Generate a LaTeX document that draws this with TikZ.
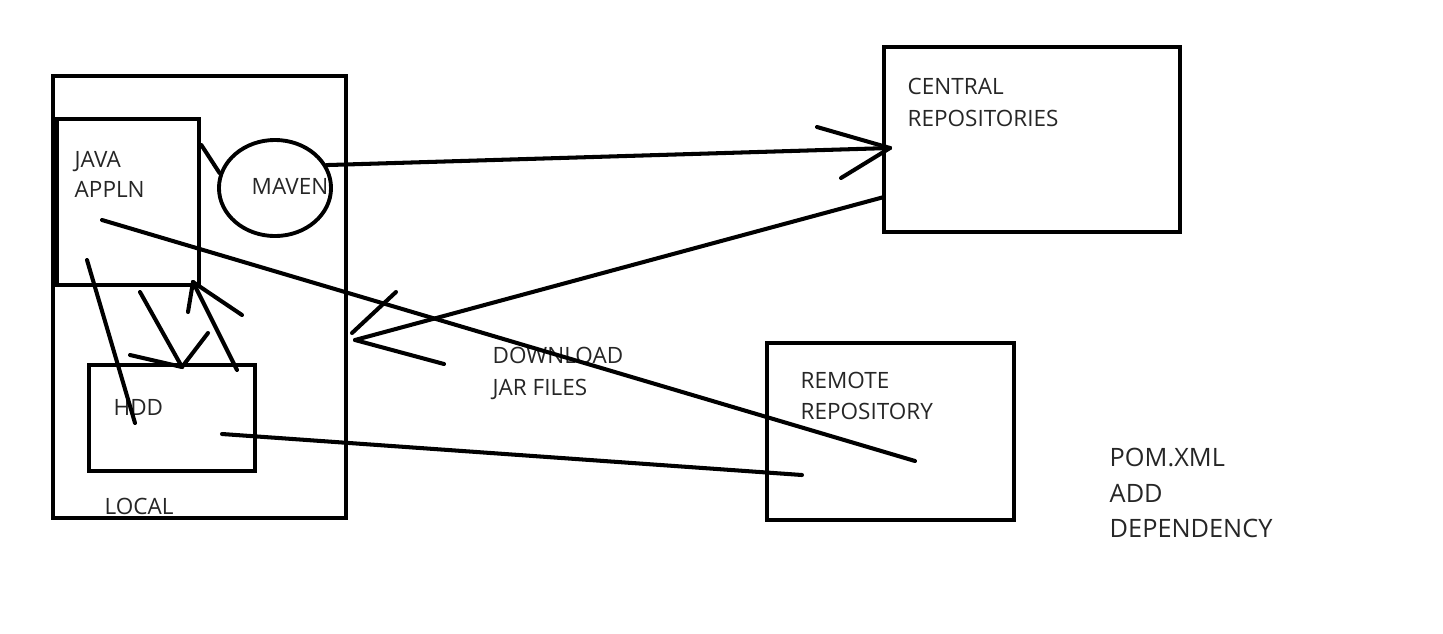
\documentclass[tikz,border=0pt]{standalone}
\usepackage{fontspec}
\setmainfont{Open Sans}
\usetikzlibrary{shapes.geometric}
\begin{document}
\begin{tikzpicture}[x=0.01cm,y=-0.01cm,
    box/.style={draw,line width=1.3pt,inner sep=0pt},
    lbl/.style={anchor=base west,inner sep=0pt,text=black!85,font=\fontsize{6.4pt}{9pt}\selectfont},
    biglbl/.style={lbl,font=\fontsize{7.2pt}{10pt}\selectfont},
    stroke/.style={line width=1.15pt,line cap=round}]
    \useasboundingbox (0,0) rectangle (1443,633);
    \node[box,minimum width=2.93cm,minimum height=4.42cm] (local) at (199.5,297) {};
    \node[box,minimum width=1.42cm,minimum height=1.66cm] (java) at (128,202) {};
    \node[box,minimum width=1.66cm,minimum height=1.06cm] (hdd) at (172,418) {};
    \node[draw,ellipse,line width=1.1pt,inner sep=0pt,minimum width=1.12cm,minimum height=0.96cm] (maven) at (275,188) {};
    \node[box,minimum width=2.96cm,minimum height=1.85cm] (central) at (1032,139.5) {};
    \node[box,minimum width=2.47cm,minimum height=1.77cm] (remote) at (890.5,431.5) {};
    \node[lbl] (java1) at (74,167) {JAVA};
    \node[lbl] (java2) at (74,197) {APPLN};
    \node[lbl] (maventxt) at (251,194) {MAVEN};
    \node[lbl] (hddtxt) at (113,415) {HDD};
    \node[lbl] (localtxt) at (104,514) {LOCAL};
    \node[lbl] (central1) at (907,94) {CENTRAL};
    \node[lbl] (central2) at (907,126) {REPOSITORIES};
    \node[lbl] (dl1) at (492,363) {DOWNLOAD};
    \node[lbl] (dl2) at (492,395) {JAR FILES};
    \node[lbl] (remote1) at (800,388) {REMOTE};
    \node[lbl] (remote2) at (800,419) {REPOSITORY};
    \node[biglbl] (pom1) at (1109,466) {POM.XML};
    \node[biglbl] (pom2) at (1109,502) {ADD};
    \node[biglbl] (pom3) at (1109,537) {DEPENDENCY};
    % maven to central
    \coordinate (tipc) at (890,148);
    \draw[stroke] (java.east |- 0,145) -- (maven.165);
    \draw[stroke] (maven.24) -- (tipc);
    \draw[stroke] (817,127) -- (tipc);
    \draw[stroke] (841,178) -- (tipc);
    % central back to local
    \coordinate (fromc) at (884,197);
    \coordinate (tipl) at (355,340);
    \draw[stroke] (fromc) -- (tipl);
    \draw[stroke] (352,333) -- (396,292);
    \draw[stroke] (tipl) -- (444,364);
    % remote
    \coordinate (ja) at (102,220);
    \coordinate (ra) at (915,461);
    \coordinate (ha) at (222,434);
    \coordinate (rb) at (802,475);
    \draw[stroke] (ja) -- (ra);
    \draw[stroke] (ha) -- (rb);
    % java and hdd
    \coordinate (jb) at (87,260);
    \coordinate (hb) at (135,423);
    \draw[stroke] (jb) -- (hb);
    \coordinate (jc) at (140,292);
    \coordinate (tiph) at (182,367);
    \draw[stroke] (jc) -- (tiph);
    \draw[stroke] (208,333) -- (tiph);
    \draw[stroke] (130,355) -- (tiph);
    \coordinate (hc) at (237,370);
    \coordinate (tipj) at (193,282);
    \draw[stroke] (hc) -- (tipj);
    \draw[stroke] (188,312) -- (tipj);
    \draw[stroke] (242,315) -- (tipj);
\end{tikzpicture}
\end{document}
